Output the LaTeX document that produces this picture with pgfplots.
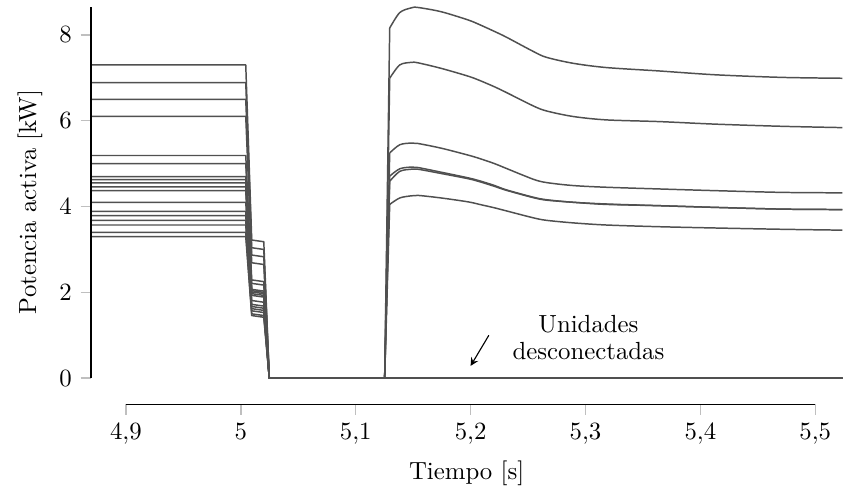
\documentclass[border=0pt]{standalone}
\usepackage{pgfplots}
\pgfplotsset{compat=1.18}
\definecolor{curvegray}{RGB}{80,80,80}
\begin{document}
\begin{tikzpicture}
\begin{axis}[
  scale only axis, width=303pt, height=163pt,
  xmin=4.8696, xmax=5.5235, ymin=-0.605, ymax=8.814,
  axis line style={draw=none},
  tick align=outside, xtick pos=bottom, ytick pos=left,
  major tick length=4.2pt,
  tick style={black!25, line width=0.6pt},
  xtick={4.9,5.0,5.1,5.2,5.3,5.4,5.5},
  ytick={0,2,4,6,8},
  /pgf/number format/use comma,
  xlabel={Tiempo [s]}, ylabel={Potencia activa [kW]},
  clip=false,
  cycle list={{draw=curvegray, solid, mark=none}},
  every axis plot post/.append style={draw=curvegray, line width=0.6pt, line join=round},
]
% non-recovering units
\addplot coordinates {(4.8696,6.89) (5.0043,6.89) (5.0095,3.04) (5.0200,3.00) (5.0248,0) (5.5235,0)};
\addplot coordinates {(4.8696,6.50) (5.0043,6.50) (5.0095,2.87) (5.0200,2.83) (5.0248,0) (5.5235,0)};
\addplot coordinates {(4.8696,5.19) (5.0043,5.19) (5.0095,2.29) (5.0200,2.25) (5.0248,0) (5.5235,0)};
\addplot coordinates {(4.8696,5.00) (5.0043,5.00) (5.0095,2.21) (5.0200,2.17) (5.0248,0) (5.5235,0)};
\addplot coordinates {(4.8696,4.63) (5.0043,4.63) (5.0095,2.04) (5.0200,2.00) (5.0248,0) (5.5235,0)};
\addplot coordinates {(4.8696,4.55) (5.0043,4.55) (5.0095,2.01) (5.0200,1.97) (5.0248,0) (5.5235,0)};
\addplot coordinates {(4.8696,4.46) (5.0043,4.46) (5.0095,1.97) (5.0200,1.93) (5.0248,0) (5.5235,0)};
\addplot coordinates {(4.8696,4.37) (5.0043,4.37) (5.0095,1.93) (5.0200,1.89) (5.0248,0) (5.5235,0)};
\addplot coordinates {(4.8696,3.79) (5.0043,3.79) (5.0095,1.67) (5.0200,1.63) (5.0248,0) (5.5235,0)};
\addplot coordinates {(4.8696,3.68) (5.0043,3.68) (5.0095,1.62) (5.0200,1.58) (5.0248,0) (5.5235,0)};
\addplot coordinates {(4.8696,3.40) (5.0043,3.40) (5.0095,1.50) (5.0200,1.46) (5.0248,0) (5.5235,0)};
\addplot coordinates {(4.8696,3.30) (5.0043,3.30) (5.0095,1.46) (5.0200,1.42) (5.0248,0) (5.5235,0)};
% recovering units: fault part
\addplot coordinates {(4.8696,7.30) (5.0043,7.30) (5.0095,3.22) (5.0200,3.18) (5.0248,0) (5.1252,0) (5.1296,8.16)};
\addplot coordinates {(4.8696,6.10) (5.0043,6.10) (5.0095,2.69) (5.0200,2.65) (5.0248,0) (5.1252,0) (5.1296,6.99)};
\addplot coordinates {(4.8696,4.70) (5.0043,4.70) (5.0095,2.07) (5.0200,2.03) (5.0248,0) (5.1252,0) (5.1296,5.25)};
\addplot coordinates {(4.8696,4.10) (5.0043,4.10) (5.0095,1.81) (5.0200,1.77) (5.0248,0) (5.1252,0) (5.1296,4.71)};
\addplot coordinates {(4.8696,3.89) (5.0043,3.89) (5.0095,1.72) (5.0200,1.68) (5.0248,0) (5.1252,0) (5.1296,4.59)};
\addplot coordinates {(4.8696,3.57) (5.0043,3.57) (5.0095,1.57) (5.0200,1.53) (5.0248,0) (5.1252,0) (5.1296,4.05)};
% recovering units: recovery part
\addplot+[smooth, tension=0.5] coordinates {
 (5.1296,8.16) (5.1383,8.52) (5.1483,8.63) (5.1542,8.64) (5.1745,8.54) (5.1977,8.35) (5.2078,8.24)
 (5.2209,8.08) (5.2310,7.95) (5.2542,7.62) (5.2658,7.48) (5.2890,7.34) (5.3180,7.24) (5.3643,7.16)
 (5.4137,7.07) (5.4716,7.01) (5.5235,6.99)};
\addplot+[smooth, tension=0.5] coordinates {
 (5.1296,6.99) (5.1383,7.30) (5.1483,7.36) (5.1542,7.35) (5.1745,7.22) (5.1977,7.04) (5.2078,6.94)
 (5.2209,6.79) (5.2310,6.66) (5.2542,6.35) (5.2658,6.23) (5.2890,6.10) (5.3180,6.02) (5.3643,5.98)
 (5.4137,5.92) (5.4716,5.87) (5.5235,5.84)};
\addplot+[smooth, tension=0.5] coordinates {
 (5.1296,5.25) (5.1383,5.44) (5.1483,5.48) (5.1542,5.47) (5.1745,5.36) (5.1977,5.20) (5.2078,5.12)
 (5.2209,5.00) (5.2310,4.89) (5.2542,4.64) (5.2658,4.56) (5.2890,4.49) (5.3180,4.45) (5.3643,4.41)
 (5.4137,4.37) (5.4716,4.33) (5.5235,4.32)};
\addplot+[smooth, tension=0.5] coordinates {
 (5.1296,4.71) (5.1383,4.88) (5.1483,4.92) (5.1542,4.91) (5.1745,4.80) (5.1977,4.67) (5.2078,4.60)
 (5.2209,4.49) (5.2310,4.39) (5.2542,4.22) (5.2658,4.16) (5.2890,4.10) (5.3180,4.06) (5.3643,4.02)
 (5.4137,3.98) (5.4716,3.94) (5.5235,3.93)};
\addplot+[smooth, tension=0.5] coordinates {
 (5.1296,4.59) (5.1383,4.82) (5.1483,4.87) (5.1542,4.87) (5.1745,4.77) (5.1977,4.65) (5.2078,4.58)
 (5.2209,4.47) (5.2310,4.38) (5.2542,4.21) (5.2658,4.15) (5.2890,4.10) (5.3180,4.05) (5.3643,4.02)
 (5.4137,3.98) (5.4716,3.94) (5.5235,3.93)};
\addplot+[smooth, tension=0.5] coordinates {
 (5.1296,4.05) (5.1383,4.20) (5.1483,4.25) (5.1542,4.26) (5.1745,4.20) (5.1977,4.11) (5.2078,4.05)
 (5.2209,3.97) (5.2310,3.90) (5.2542,3.74) (5.2658,3.68) (5.2890,3.62) (5.3180,3.57) (5.3643,3.53)
 (5.4137,3.50) (5.4716,3.47) (5.5235,3.45)};
% spines
\draw[black, line width=0.45pt] (axis cs:4.8696,0) -- (axis cs:4.8696,8.64);
\draw[black, line width=0.45pt] (axis cs:4.9,-0.605) -- (axis cs:5.5,-0.605);
% annotation
\draw[-stealth, black, line width=0.45pt] (axis cs:5.2159,1.0) -- (axis cs:5.2,0.286);
\node[align=center, inner sep=0pt] at (axis cs:5.3026,0.95) {Unidades\\[-1pt]desconectadas};
\end{axis}
\path (current axis.south west) ++(-36.7pt,-37.1pt);
\end{tikzpicture}
\end{document}
